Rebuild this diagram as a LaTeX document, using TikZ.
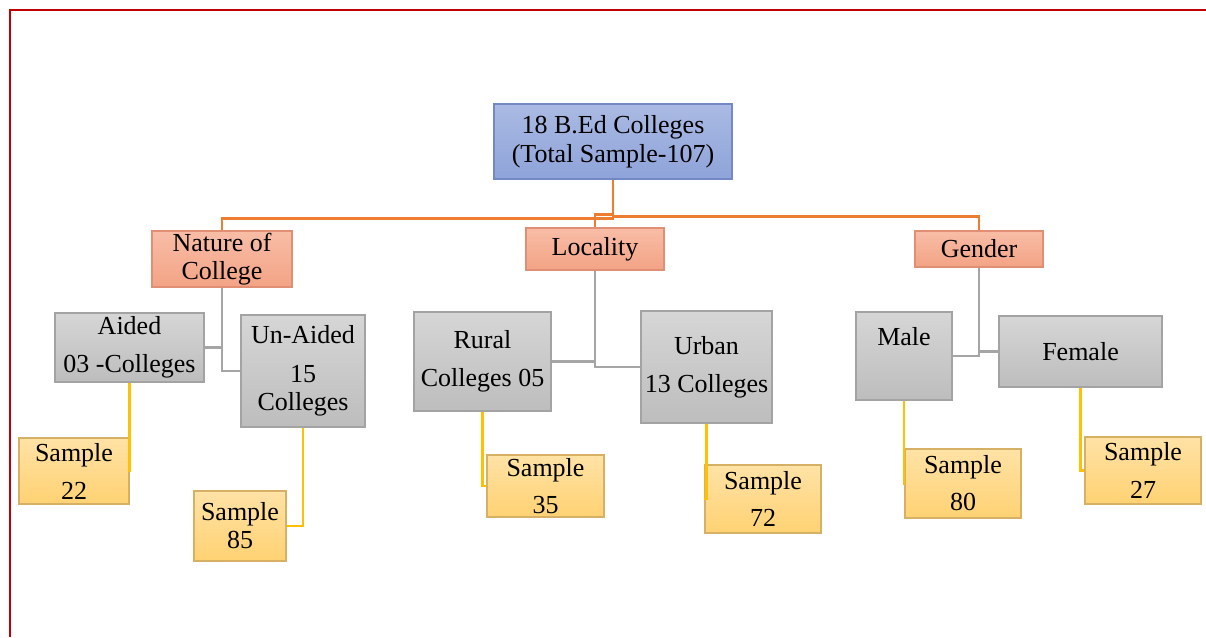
\documentclass[tikz,border=0pt]{standalone}
\usepackage{fontspec}
\setmainfont{Liberation Serif}
\definecolor{borderred}{HTML}{C00000}
\definecolor{rootT}{HTML}{AABAE3}
\definecolor{rootB}{HTML}{8EA3D9}
\definecolor{rootD}{HTML}{7388C4}
\definecolor{salT}{HTML}{F8BDA6}
\definecolor{salB}{HTML}{F3A385}
\definecolor{salD}{HTML}{E08E74}
\definecolor{grT}{HTML}{D6D6D6}
\definecolor{grB}{HTML}{BDBDBD}
\definecolor{grD}{HTML}{A3A3A3}
\definecolor{yeT}{HTML}{FFE2A6}
\definecolor{yeB}{HTML}{FFD273}
\definecolor{yeD}{HTML}{D6B064}
\definecolor{orline}{HTML}{ED7D31}
\definecolor{grline}{HTML}{A5A5A5}
\definecolor{yeline}{HTML}{FFC000}
\tikzset{
  box/.style={draw, line width=1.3pt, inner sep=0pt, align=center,
    font=\fontsize{26}{28}\selectfont},
  rootbox/.style={box, draw=rootD, top color=rootT, bottom color=rootB},
  catbox/.style={box, draw=salD, top color=salT, bottom color=salB},
  subbox/.style={box, draw=grD, top color=grT, bottom color=grB},
  sampbox/.style={box, draw=yeD, top color=yeT, bottom color=yeB},
  orconn/.style={draw=orline, line width=2.8pt},
  grconn/.style={draw=grline, line width=2.6pt},
  yeconn/.style={draw=yeline, line width=2.2pt},
}
\begin{document}
\begin{tikzpicture}[x=1pt,y=-1pt]
\useasboundingbox (0,0) rectangle (1206,637);
% frame
\draw[borderred, line width=2pt] (10,637) -- (10,10) -- (1206,10);
% root
\node[rootbox, minimum width=238pt, minimum height=75pt] (root) at (613,141.5) {\vspace{4pt}18 B.Ed Colleges\\[1pt](Total Sample-107)};
% categories
\node[catbox, minimum width=140pt, minimum height=56pt] (nature) at (222,259) {\vspace{4pt}Nature of\\College};
\node[catbox, minimum width=138pt, minimum height=42pt] (locality) at (595,249) {\vspace{4pt}Locality};
\node[catbox, minimum width=128pt, minimum height=36pt] (gender) at (979,249) {Gender};
% sub boxes
\node[subbox, minimum width=149pt, minimum height=69pt] (aided) at (129.5,347.5) {\vspace{3pt}Aided\\[10pt]03 -Colleges};
\node[subbox, minimum width=124pt, minimum height=112pt] (unaided) at (303,371) {Un-Aided\\[11pt]15\\Colleges};
\node[subbox, minimum width=137pt, minimum height=99pt] (rural) at (482.5,361.5) {\vspace{3pt}Rural\\[10pt]Colleges 05};
\node[subbox, minimum width=131pt, minimum height=112pt] (urban) at (706.5,367) {\vspace{3pt}Urban\\[10pt]13 Colleges};
\node[subbox, minimum width=96pt, minimum height=88pt] (male) at (904,356) {Male\\[12pt]\mbox{}};
\node[subbox, minimum width=163pt, minimum height=71pt] (female) at (1080.5,351.5) {Female};
% samples
\node[sampbox, minimum width=110pt, minimum height=66pt] (s22) at (74,471) {Sample\\[10pt]22};
\node[sampbox, minimum width=92pt, minimum height=70pt] (s85) at (240,526) {Sample\\85};
\node[sampbox, minimum width=117pt, minimum height=62pt] (s35) at (545.5,486) {Sample\\[9pt]35};
\node[sampbox, minimum width=116pt, minimum height=68pt] (s72) at (763,499) {Sample\\[9pt]72};
\node[sampbox, minimum width=116pt, minimum height=69pt] (s80) at (963,483.5) {Sample\\[9pt]80};
\node[sampbox, minimum width=116pt, minimum height=67pt] (s27) at (1143,470.5) {Sample\\[10pt]27};
% orange connectors
\draw[orconn] (root.south) -- ++(0,39) -| (nature.north);
\draw[orconn] (root.south) -- ++(0,37) -| (gender.north);
\draw[orconn] (root.south) -- ++(0,35) -| (locality.north);
% gray connectors
\draw[grconn] (nature.south) |- (aided.east);
\draw[grconn] (nature.south) |- (unaided.west);
\draw[grconn] (locality.south) |- (rural.east);
\draw[grconn] (locality.south) |- (urban.west);
\draw[grconn] (gender.south) |- (male.east);
\draw[grconn] (gender.south) |- (female.west);
% yellow connectors
\draw[yeconn] (aided.south) |- (s22.east);
\draw[yeconn] (unaided.south) |- (s85.east);
\draw[yeconn] (rural.south) |- (s35.west);
\draw[yeconn] (urban.south) |- (s72.west);
\draw[yeconn] (male.south) |- (s80.west);
\draw[yeconn] (female.south) |- (s27.west);
\end{tikzpicture}
\end{document}
